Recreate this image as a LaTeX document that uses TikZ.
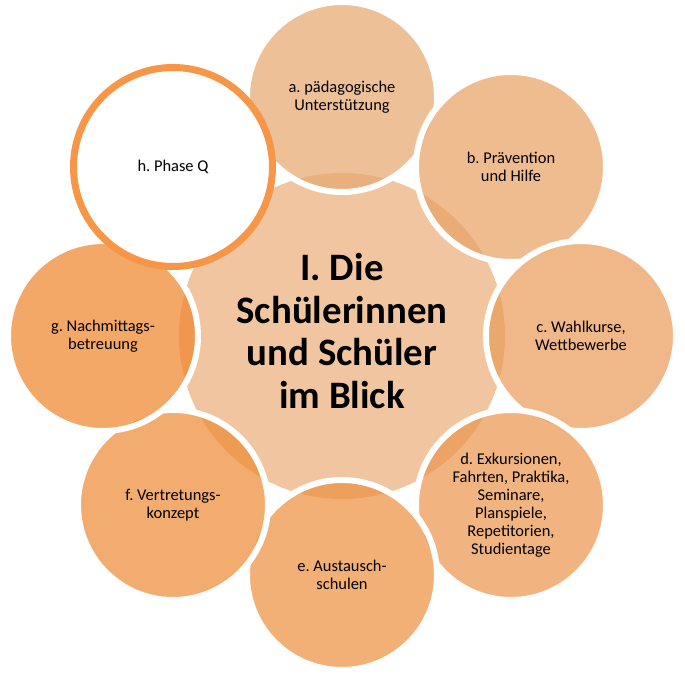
\documentclass[tikz,border=0pt]{standalone}
\usepackage{fontspec}
\setmainfont{Carlito}
\usepackage{tikz}
\usepackage{xcolor}
\frenchspacing

\definecolor{hub}{HTML}{F0C5A0}
\definecolor{petalA}{HTML}{E7A870}
\definecolor{petalG}{HTML}{F0862D}
\definecolor{ring}{HTML}{F79646}

\begin{document}
\begin{tikzpicture}[x=1bp, y=1bp,
    every node/.style={circle, align=center, inner sep=0pt, text=black},
    petal/.style={draw=white, line width=6bp, minimum size=190bp,
        fill opacity=0.72, text opacity=1,
        font=\fontsize{16.5}{18}\selectfont}]
            \useasboundingbox (-342,-342) rectangle (343,336);

            % middle circle
            \node[fill=hub, minimum size=326bp] (M) at (0,0) {};
            \node[font=\fontsize{39}{43}\selectfont\bfseries] (T) at (0,5)
                {I. Die\\Schülerinnen\\und Schüler\\im Blick};

            \node[petal, fill=petalA]           (A) at (90:239)   {a. pädagogische\\Unterstützung};
            \node[petal, fill=petalA!83!petalG] (B) at (45:239)   {b. Prävention\\und Hilfe};
            \node[petal, fill=petalA!67!petalG] (C) at (0:239)    {c. Wahlkurse,\\Wettbewerbe};
            \node[petal, fill=petalA!50!petalG] (D) at (-45:239)  {d. Exkursionen,\\Fahrten, Praktika,\\Seminare,\\Planspiele,\\Repetitorien,\\Studientage};
            \node[petal, fill=petalA!33!petalG] (E) at (-90:239)  {e. Austausch-\\schulen};
            \node[petal, fill=petalA!17!petalG] (F) at (-135:239) {f. Vertretungs-\\konzept};
            \node[petal, fill=petalG]           (G) at (180:239)  {g. Nachmittags-\\betreuung};
            \node[petal, fill=white, fill opacity=1, draw=ring, line width=7bp,
                  minimum size=199bp]           (H) at (135:239)  {h. Phase Q};
        \end{tikzpicture}
\end{document}
